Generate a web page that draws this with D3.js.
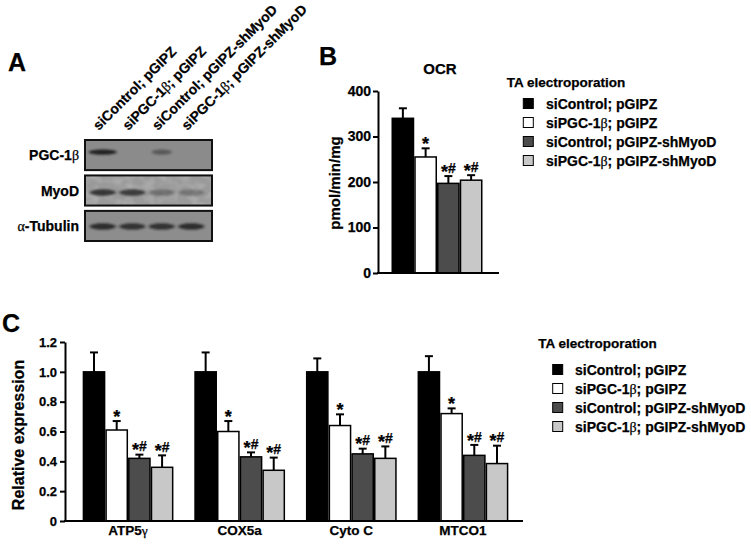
<!DOCTYPE html>
<html><head><meta charset="utf-8">
<script src="https://cdn.jsdelivr.net/npm/d3@7"></script>
<style>
body{margin:0;background:#fff}
svg{display:block}
text{font-family:"Liberation Sans",Arial,Helvetica,sans-serif;font-weight:bold;fill:#000;stroke:#000;stroke-width:0.25px}
</style>
</head><body>
<svg id="fig" width="751" height="549"></svg>
<script>
// ---------- DATA ----------
const series = ["siControl; pGIPZ", "siPGC-1β; pGIPZ", "siControl; pGIPZ-shMyoD", "siPGC-1β; pGIPZ-shMyoD"];
const seriesColors = ["#000000", "#ffffff", "#4c4c4c", "#c8c8c8"];
const legendTitle = "TA electroporation";

// Panel B: OCR
const ocrTitle = "OCR";
const ocrYLabel = "pmol/min/mg";
const ocrMean = [340, 255, 197, 204];
const ocrErr = [22, 19, 16, 11];
const ocrSig = ["", "*", "*#", "*#"];
const ocrTicks = [0, 100, 200, 300, 400];

// Panel C: relative expression
const genes = ["ATP5γ", "COX5a", "Cyto C", "MTCO1"];
const exprYLabel = "Relative expression";
const exprMean = [
  [1.00, 0.61, 0.42, 0.36],
  [1.00, 0.60, 0.43, 0.34],
  [1.00, 0.64, 0.45, 0.42],
  [1.00, 0.72, 0.44, 0.385]
];
const exprErr = [
  [0.13, 0.06, 0.025, 0.08],
  [0.13, 0.07, 0.03, 0.085],
  [0.09, 0.075, 0.035, 0.08],
  [0.105, 0.035, 0.07, 0.12]
];
const exprSig = ["", "*", "*#", "*#"];
const exprTicks = [0, 0.2, 0.4, 0.6, 0.8, 1.0, 1.2];

// Panel A: western blot (band intensity 0..1 per lane)
const blotRows = ["PGC-1β", "MyoD", "α-Tubulin"];
const pgcBands = [0.95, 0, 0.45, 0];
const myodBands = [0.8, 0.75, 0.35, 0.3];
const tubulinBands = [0.85, 0.8, 0.8, 0.85];

// ---------- HELPERS ----------
const svg = d3.select("#fig");
const defs = svg.append("defs");
defs.append("filter").attr("id", "blur").attr("x", "-50%").attr("y", "-100%").attr("width", "200%").attr("height", "300%")
  .append("feGaussianBlur").attr("stdDeviation", "1.6 1.1");
const noise = defs.append("filter").attr("id", "noise").attr("x", 0).attr("y", 0).attr("width", "100%").attr("height", "100%");
noise.append("feTurbulence").attr("type", "fractalNoise").attr("baseFrequency", "0.09 0.12").attr("numOctaves", 2).attr("seed", 3).attr("result", "t");
noise.append("feColorMatrix").attr("in", "t").attr("type", "matrix")
  .attr("values", "0 0 0 0 1  0 0 0 0 1  0 0 0 0 1  1.2 0 0 0 -0.45");

function rich(sel, str) {
  const parts = str.split(/([αβγ])/).filter(p => p.length);
  parts.forEach(p => {
    const t = sel.append("tspan").text(p);
    if (/[αβγ]/.test(p)) t.style("font-family", '"Liberation Serif","Times New Roman",serif').style("font-weight", "normal");
  });
  return sel;
}

function sigText(g, x, y, s) {
  if (!s) return;
  const t = g.append("text").attr("x", x).attr("y", y).attr("text-anchor", "middle");
  s.split("").forEach(ch => {
    const ts = t.append("tspan").text(ch);
    if (ch === "*") ts.attr("dy", 5).style("font-size", "18px");
    else ts.attr("dy", -5).style("font-size", "14px");
  });
}

function legend(x, y, sqX, textX, rowY0) {
  const g = svg.append("g");
  g.append("text").attr("x", x).attr("y", y).style("font-size", "13.5px").text(legendTitle);
  series.forEach((s, i) => {
    const cy = rowY0 + i * 19;
    g.append("rect").attr("x", sqX).attr("y", cy - 5).attr("width", 10).attr("height", 10)
      .attr("fill", seriesColors[i]).attr("stroke", "#000").attr("stroke-width", 1);
    rich(g.append("text").attr("x", textX).attr("y", cy + 5).style("font-size", "14px"), s);
  });
}

function styleAxis(g) {
  g.selectAll("path.domain").attr("stroke", "#000").attr("stroke-width", 2);
  g.selectAll(".tick line").attr("stroke", "#000").attr("stroke-width", 2);
  g.selectAll(".tick text").style("font-family", '"Liberation Sans",Arial,sans-serif').style("font-weight", "bold")
    .attr("fill", "#000").attr("stroke", "#000").attr("stroke-width", 0.25);
}

// ---------- PANEL LABELS ----------
svg.append("text").attr("x", 8).attr("y", 71).style("font-size", "25px").text("A");
svg.append("text").attr("x", 319).attr("y", 65).style("font-size", "25px").text("B");
svg.append("text").attr("x", 2).attr("y", 332).style("font-size", "25px").text("C");

// ---------- PANEL A: BLOT ----------
const lane = d3.scaleBand().domain(series).range([88, 206]);
const rowScale = d3.scaleBand().domain(blotRows).range([140, 241]).paddingInner(0.15);
const blotFill = ["#8b8b8b", "#9a9a9a", "#8d8d8d"];
const bandSets = [pgcBands, myodBands, tubulinBands];
const bandOffset = [-3, 2, 0.5];
const gA = svg.append("g");
blotRows.forEach((r, ri) => {
  const y = rowScale(r), h = rowScale.bandwidth();
  gA.append("rect").attr("x", 85).attr("y", y).attr("width", 127).attr("height", h).attr("fill", blotFill[ri]);
  if (ri === 1) {
    gA.append("rect").attr("x", 85).attr("y", y).attr("width", 127).attr("height", h)
      .attr("filter", "url(#noise)").attr("opacity", 0.35);
  }
  gA.selectAll(null).data(bandSets[ri]).enter().append("ellipse")
    .attr("cx", (d, i) => lane(series[i]) + lane.bandwidth() / 2)
    .attr("cy", y + h / 2 + bandOffset[ri])
    .attr("rx", (d, i) => ri === 0 ? (i === 0 ? 14 : 10) : 13)
    .attr("ry", ri === 0 ? 2.6 : 3.2)
    .attr("fill", "#1a1a1a")
    .attr("opacity", d => d)
    .attr("filter", "url(#blur)");
  gA.append("rect").attr("x", 85).attr("y", y).attr("width", 127).attr("height", h)
    .attr("fill", "none").attr("stroke", "#111").attr("stroke-width", 2);
  rich(gA.append("text").attr("x", 79).attr("y", y + h / 2 + 5).attr("text-anchor", "end").style("font-size", "14px"), r);
});
series.forEach((s, i) => {
  const cx = lane(s) + lane.bandwidth() / 2 - 4;
  rich(gA.append("text").attr("transform", `translate(${cx},131) rotate(-45)`).style("font-size", "14px"), s);
});

// ---------- PANEL B: OCR ----------
const yB = d3.scaleLinear().domain([0, 400]).range([273, 91]);
const xB = d3.scaleBand().domain(series).range([391.5, 482.5]);
const gB = svg.append("g");
gB.append("text").attr("x", 440).attr("y", 74).attr("text-anchor", "middle").style("font-size", "15px").text(ocrTitle);
gB.append("text").attr("transform", `translate(340,183) rotate(-90)`).attr("text-anchor", "middle").style("font-size", "15px").text(ocrYLabel);
series.forEach((s, i) => {
  const cx = xB(s) + xB.bandwidth() / 2;
  const top = yB(ocrMean[i] + ocrErr[i]);
  gB.append("line").attr("x1", cx).attr("x2", cx).attr("y1", yB(ocrMean[i])).attr("y2", top).attr("stroke", "#000").attr("stroke-width", 2);
  gB.append("line").attr("x1", cx - 4).attr("x2", cx + 4).attr("y1", top).attr("y2", top).attr("stroke", "#000").attr("stroke-width", 2);
  sigText(gB, cx, top - 3.3, ocrSig[i]);
});
gB.selectAll("rect.bar").data(ocrMean).enter().append("rect")
  .attr("x", (d, i) => xB(series[i]) + 0.75).attr("width", xB.bandwidth() - 1.5)
  .attr("y", d => yB(d)).attr("height", d => yB(0) - yB(d))
  .attr("fill", (d, i) => seriesColors[i]).attr("stroke", "#000").attr("stroke-width", 1.5);
const axB = gB.append("g").attr("transform", "translate(378,0)")
  .call(d3.axisLeft(yB).tickValues(ocrTicks).tickSize(5).tickSizeOuter(0).tickPadding(2).tickFormat(d3.format("d")));
axB.selectAll(".tick text").style("font-size", "14px");
styleAxis(axB);
gB.append("line").attr("x1", 377).attr("x2", 499).attr("y1", 273).attr("y2", 273).attr("stroke", "#000").attr("stroke-width", 2);

legend(506.7, 87, 523.3, 546, 103.5);

// ---------- PANEL C: EXPRESSION ----------
const yC = d3.scaleLinear().domain([0, 1.2]).range([521, 342]);
const x0 = d3.scaleBand().domain(genes).range([71.5, 519.5]).paddingInner(0.187).paddingOuter(0.1);
const x1 = d3.scaleBand().domain(series).range([0, x0.bandwidth()]);
const gC = svg.append("g");
gC.append("text").attr("transform", `translate(24,435) rotate(-90)`).attr("text-anchor", "middle").style("font-size", "16px").text(exprYLabel);
genes.forEach((gname, gi) => {
  const gx = x0(gname);
  series.forEach((s, i) => {
    const cx = gx + x1(s) + x1.bandwidth() / 2;
    const top = yC(exprMean[gi][i] + exprErr[gi][i]);
    gC.append("line").attr("x1", cx).attr("x2", cx).attr("y1", yC(exprMean[gi][i])).attr("y2", top).attr("stroke", "#000").attr("stroke-width", 2);
    gC.append("line").attr("x1", cx - 4).attr("x2", cx + 4).attr("y1", top).attr("y2", top).attr("stroke", "#000").attr("stroke-width", 2);
    sigText(gC, cx, top - 3.3, exprSig[i]);
  });
  gC.selectAll(null).data(exprMean[gi]).enter().append("rect")
    .attr("x", (d, i) => gx + x1(series[i]) + 0.75).attr("width", x1.bandwidth() - 1.5)
    .attr("y", d => yC(d)).attr("height", d => yC(0) - yC(d))
    .attr("fill", (d, i) => seriesColors[i]).attr("stroke", "#000").attr("stroke-width", 1.5);
  rich(gC.append("text").attr("x", gx + x0.bandwidth() / 2).attr("y", 535).attr("text-anchor", "middle").style("font-size", "13.5px"), gname);
});
const axC = gC.append("g").attr("transform", "translate(65,0)")
  .call(d3.axisLeft(yC).tickValues(exprTicks).tickSize(5).tickSizeOuter(0).tickPadding(3)
    .tickFormat(d => d === 0 ? "0" : d3.format(".1f")(d)));
axC.selectAll(".tick text").style("font-size", "13px");
styleAxis(axC);
gC.append("line").attr("x1", 64).attr("x2", 523).attr("y1", 521).attr("y2", 521).attr("stroke", "#000").attr("stroke-width", 2);

legend(538.3, 348, 552.7, 575, 369.5);
</script>
</body></html>
